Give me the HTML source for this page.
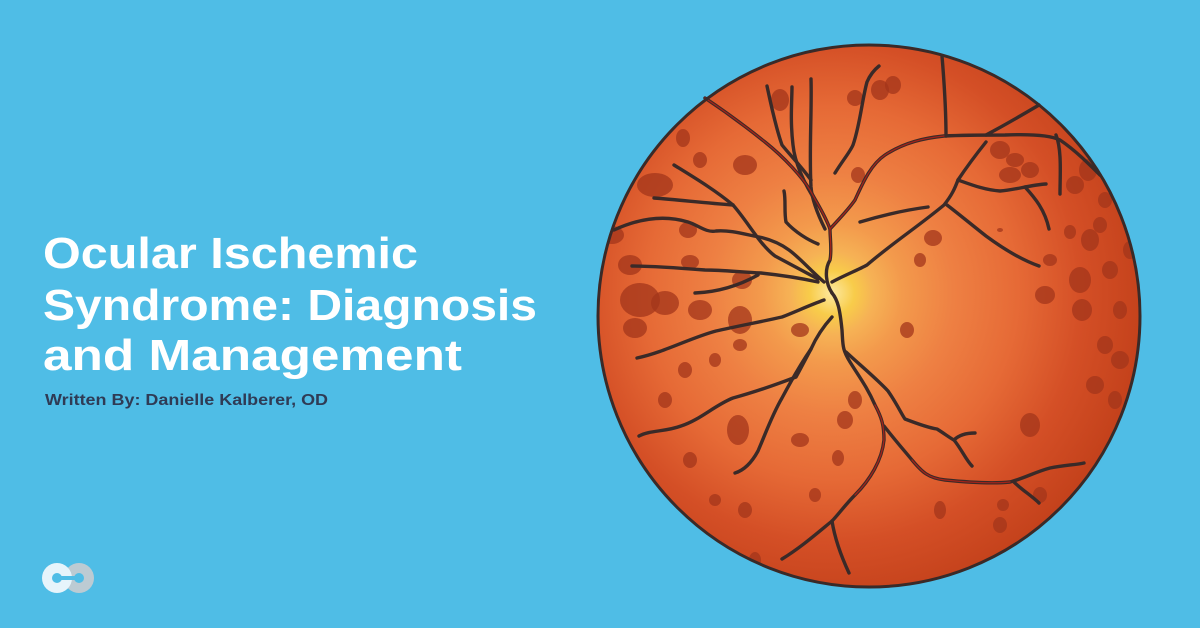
<!DOCTYPE html>
<html><head><meta charset="utf-8"><style>
html,body{margin:0;padding:0;background:#4fbde6;width:1200px;height:628px;overflow:hidden}
svg{display:block}
</style></head><body>
<svg width="1200" height="628" viewBox="0 0 1200 628" xmlns="http://www.w3.org/2000/svg">
<defs>
<radialGradient id="g" cx="832" cy="293" r="320" gradientUnits="userSpaceOnUse">
<stop offset="0" stop-color="#fde9a0"/>
<stop offset="0.07" stop-color="#f8cc4a"/>
<stop offset="0.13" stop-color="#f6b255"/>
<stop offset="0.22" stop-color="#f39a4c"/>
<stop offset="0.38" stop-color="#ee8043"/>
<stop offset="0.58" stop-color="#e66a36"/>
<stop offset="0.78" stop-color="#d44f26"/>
<stop offset="1" stop-color="#c2401a"/>
</radialGradient>
<clipPath id="c"><circle cx="869" cy="316" r="271"/></clipPath>
</defs>
<rect width="1200" height="628" fill="#4fbde6"/>
<circle cx="869" cy="316" r="271" fill="url(#g)"/>
<g clip-path="url(#c)" fill="#a3361b" fill-opacity="0.75">
<ellipse cx="655" cy="185" rx="18" ry="12"/><ellipse cx="640" cy="300" rx="20" ry="17"/><ellipse cx="665" cy="303" rx="14" ry="12"/><ellipse cx="630" cy="265" rx="12" ry="10"/>
<ellipse cx="612" cy="235" rx="12" ry="9"/><ellipse cx="635" cy="328" rx="12" ry="10"/><ellipse cx="688" cy="230" rx="9" ry="8"/>
<ellipse cx="700" cy="310" rx="12" ry="10"/><ellipse cx="740" cy="320" rx="12" ry="14"/><ellipse cx="742" cy="280" rx="10" ry="9"/>
<ellipse cx="690" cy="262" rx="9" ry="7"/><ellipse cx="683" cy="138" rx="7" ry="9"/><ellipse cx="700" cy="160" rx="7" ry="8"/>
<ellipse cx="745" cy="165" rx="12" ry="10"/><ellipse cx="780" cy="100" rx="9" ry="11"/><ellipse cx="855" cy="98" rx="8" ry="8"/>
<ellipse cx="880" cy="90" rx="9" ry="10"/><ellipse cx="893" cy="85" rx="8" ry="9"/><ellipse cx="858" cy="175" rx="7" ry="8"/>
<ellipse cx="933" cy="238" rx="9" ry="8"/><ellipse cx="920" cy="260" rx="6" ry="7"/><ellipse cx="907" cy="330" rx="7" ry="8"/>
<ellipse cx="800" cy="330" rx="9" ry="7"/><ellipse cx="740" cy="345" rx="7" ry="6"/><ellipse cx="685" cy="370" rx="7" ry="8"/>
<ellipse cx="715" cy="360" rx="6" ry="7"/><ellipse cx="665" cy="400" rx="7" ry="8"/><ellipse cx="738" cy="430" rx="11" ry="15"/>
<ellipse cx="800" cy="440" rx="9" ry="7"/><ellipse cx="845" cy="420" rx="8" ry="9"/><ellipse cx="855" cy="400" rx="7" ry="9"/>
<ellipse cx="838" cy="458" rx="6" ry="8"/><ellipse cx="690" cy="460" rx="7" ry="8"/><ellipse cx="663" cy="505" rx="8" ry="9"/>
<ellipse cx="715" cy="500" rx="6" ry="6"/><ellipse cx="745" cy="510" rx="7" ry="8"/><ellipse cx="755" cy="560" rx="6" ry="8"/>
<ellipse cx="815" cy="495" rx="6" ry="7"/><ellipse cx="940" cy="510" rx="6" ry="9"/><ellipse cx="1000" cy="525" rx="7" ry="8"/>
<ellipse cx="1003" cy="505" rx="6" ry="6"/><ellipse cx="1040" cy="495" rx="7" ry="8"/><ellipse cx="1030" cy="425" rx="10" ry="12"/>
<ellipse cx="1000" cy="150" rx="10" ry="9"/><ellipse cx="1015" cy="160" rx="9" ry="7"/><ellipse cx="1030" cy="170" rx="9" ry="8"/>
<ellipse cx="1010" cy="175" rx="11" ry="8"/><ellipse cx="1088" cy="170" rx="9" ry="11"/><ellipse cx="1075" cy="185" rx="9" ry="9"/>
<ellipse cx="1090" cy="240" rx="9" ry="11"/><ellipse cx="1105" cy="200" rx="7" ry="8"/><ellipse cx="1100" cy="225" rx="7" ry="8"/>
<ellipse cx="1080" cy="280" rx="11" ry="13"/><ellipse cx="1045" cy="295" rx="10" ry="9"/><ellipse cx="1082" cy="310" rx="10" ry="11"/>
<ellipse cx="1110" cy="270" rx="8" ry="9"/><ellipse cx="1120" cy="310" rx="7" ry="9"/><ellipse cx="1105" cy="345" rx="8" ry="9"/>
<ellipse cx="1120" cy="360" rx="9" ry="9"/><ellipse cx="1095" cy="385" rx="9" ry="9"/><ellipse cx="1115" cy="400" rx="7" ry="9"/>
<ellipse cx="1070" cy="232" rx="6" ry="7"/><ellipse cx="1050" cy="260" rx="7" ry="6"/><ellipse cx="1000" cy="230" rx="3" ry="2"/>
<ellipse cx="1125" cy="430" rx="8" ry="10"/><ellipse cx="1130" cy="250" rx="7" ry="9"/>
</g>
<g fill="none" stroke="#3a2a28" stroke-width="3.4" stroke-linecap="round" stroke-linejoin="round">
<path d="M832,293 C826,284 824,270 830,260 C832,250 830,238 830,229 C825,215 818,205 810,190 C802,177 785,158 765,142 C740,122 720,108 705,98"/>
<path d="M830,229 C840,218 848,210 855,200 C862,185 870,165 885,155 C905,142 925,138 944,136 C965,135 986,135 1005,135 C1030,134 1050,135 1060,140 C1075,150 1090,165 1100,175"/>
<path d="M942,56 C944,80 946,110 946,136"/>
<path d="M986,135 C1005,125 1022,115 1039,105"/>
<path d="M832,293 C838,300 840,310 842,330 C843,345 842,349 850,362 C860,378 867,387 875,405 C882,418 884,426 884,440 C882,460 870,480 855,495 C845,505 838,515 832,521 C815,535 800,548 782,559"/>
<path d="M832,521 C835,540 842,558 849,573"/>
<path d="M884,426 C895,440 902,448 912,460 C922,472 928,478 945,480 C965,482 990,484 1010,482 C1025,478 1035,472 1050,468 C1065,465 1075,465 1084,463"/>
<path d="M846,352 C860,365 878,380 888,391 C897,404 902,415 905,419 C918,424 930,428 937,429 C945,434 950,438 954,440 C962,450 966,460 972,466"/>
<path d="M954,440 C960,434 968,433 975,433"/>
<path d="M1014,482 C1022,490 1032,496 1039,503"/>
<path d="M824,282 C810,270 800,258 789,250 C778,242 766,238 754,236 C740,233 728,230 716,231 C706,233 698,225 688,222 C665,215 640,218 614,230"/>
<path d="M818,282 C800,278 780,275 761,273 C740,272 722,270 705,270 C680,268 655,266 632,266"/>
<path d="M818,279 C805,272 790,264 775,256 C760,245 748,222 733,205 C715,190 695,178 674,165"/>
<path d="M733,205 C705,203 680,200 654,198"/>
<path d="M824,300 C810,305 795,312 782,317 C760,322 738,326 716,331 C690,338 665,352 637,358"/>
<path d="M758,275 C740,285 720,292 695,293"/>
<path d="M832,317 C822,328 815,340 811,349 C805,360 800,370 796,377 C775,385 755,392 733,398 C715,405 700,420 681,426 C665,432 650,430 639,436"/>
<path d="M811,349 C800,365 790,383 782,398 C772,415 765,435 758,451 C752,462 745,470 735,473"/>
<path d="M825,229 C818,215 812,200 811,187 C809,150 812,110 811,79"/>
<path d="M818,205 C805,185 795,165 793,145 C790,120 792,100 792,87"/>
<path d="M811,180 C800,165 790,155 782,145 C775,125 770,100 767,86"/>
<path d="M835,173 C843,160 850,152 853,145 C860,125 862,100 867,82 C870,75 874,70 879,66"/>
<path d="M784,191 C786,200 784,212 786,222 C795,232 808,240 818,244"/>
<path d="M860,222 C880,216 905,210 928,207"/>
<path d="M832,282 C845,275 858,270 867,265 C890,245 920,225 944,205 C952,195 955,188 958,180 C968,165 978,152 986,142"/>
<path d="M958,180 C972,185 985,190 1000,191 C1015,190 1030,185 1046,184"/>
<path d="M1025,187 C1035,198 1045,210 1049,229"/>
<path d="M947,205 C960,215 972,225 986,236 C1005,250 1022,260 1039,266"/>
<path d="M1056,135 C1062,150 1060,175 1060,194"/>
</g>
<g fill="none" stroke="#a3231a" stroke-width="1.3" stroke-linecap="round">
<path d="M830,260 C832,250 830,238 830,229 C825,215 818,205 810,190 C802,177 785,158 765,142 C740,122 720,108 705,98"/>
<path d="M830,229 C840,218 848,210 855,200 C862,185 870,165 885,155 C905,142 925,138 944,136"/>
<path d="M875,405 C882,418 884,426 884,440 C882,460 870,480 855,495"/>
<path d="M912,460 C922,472 928,478 945,480 C965,482 990,484 1010,482"/>
</g>
<circle cx="869" cy="316" r="271" fill="none" stroke="#3a2a28" stroke-width="3"/>
<g font-family="Liberation Sans, sans-serif" font-weight="bold" fill="#ffffff" font-size="44">
<text x="43" y="268" textLength="375" lengthAdjust="spacingAndGlyphs">Ocular Ischemic</text>
<text x="43" y="320" textLength="494" lengthAdjust="spacingAndGlyphs">Syndrome: Diagnosis</text>
<text x="43" y="370" textLength="419" lengthAdjust="spacingAndGlyphs">and Management</text>
</g>
<text x="45" y="405" font-family="Liberation Sans, sans-serif" font-weight="bold" font-size="16" fill="#2f3b55" textLength="283" lengthAdjust="spacingAndGlyphs">Written By: Danielle Kalberer, OD</text>
<circle cx="79" cy="578" r="15" fill="#bccbd3"/>
<circle cx="57" cy="578" r="15" fill="#e6f4fb"/>
<circle cx="57" cy="578" r="5" fill="#4fbde6"/>
<circle cx="79" cy="578" r="5" fill="#4fbde6"/>
<rect x="60" y="576" width="17" height="4" fill="#4fbde6"/>
</svg>
</body></html>
